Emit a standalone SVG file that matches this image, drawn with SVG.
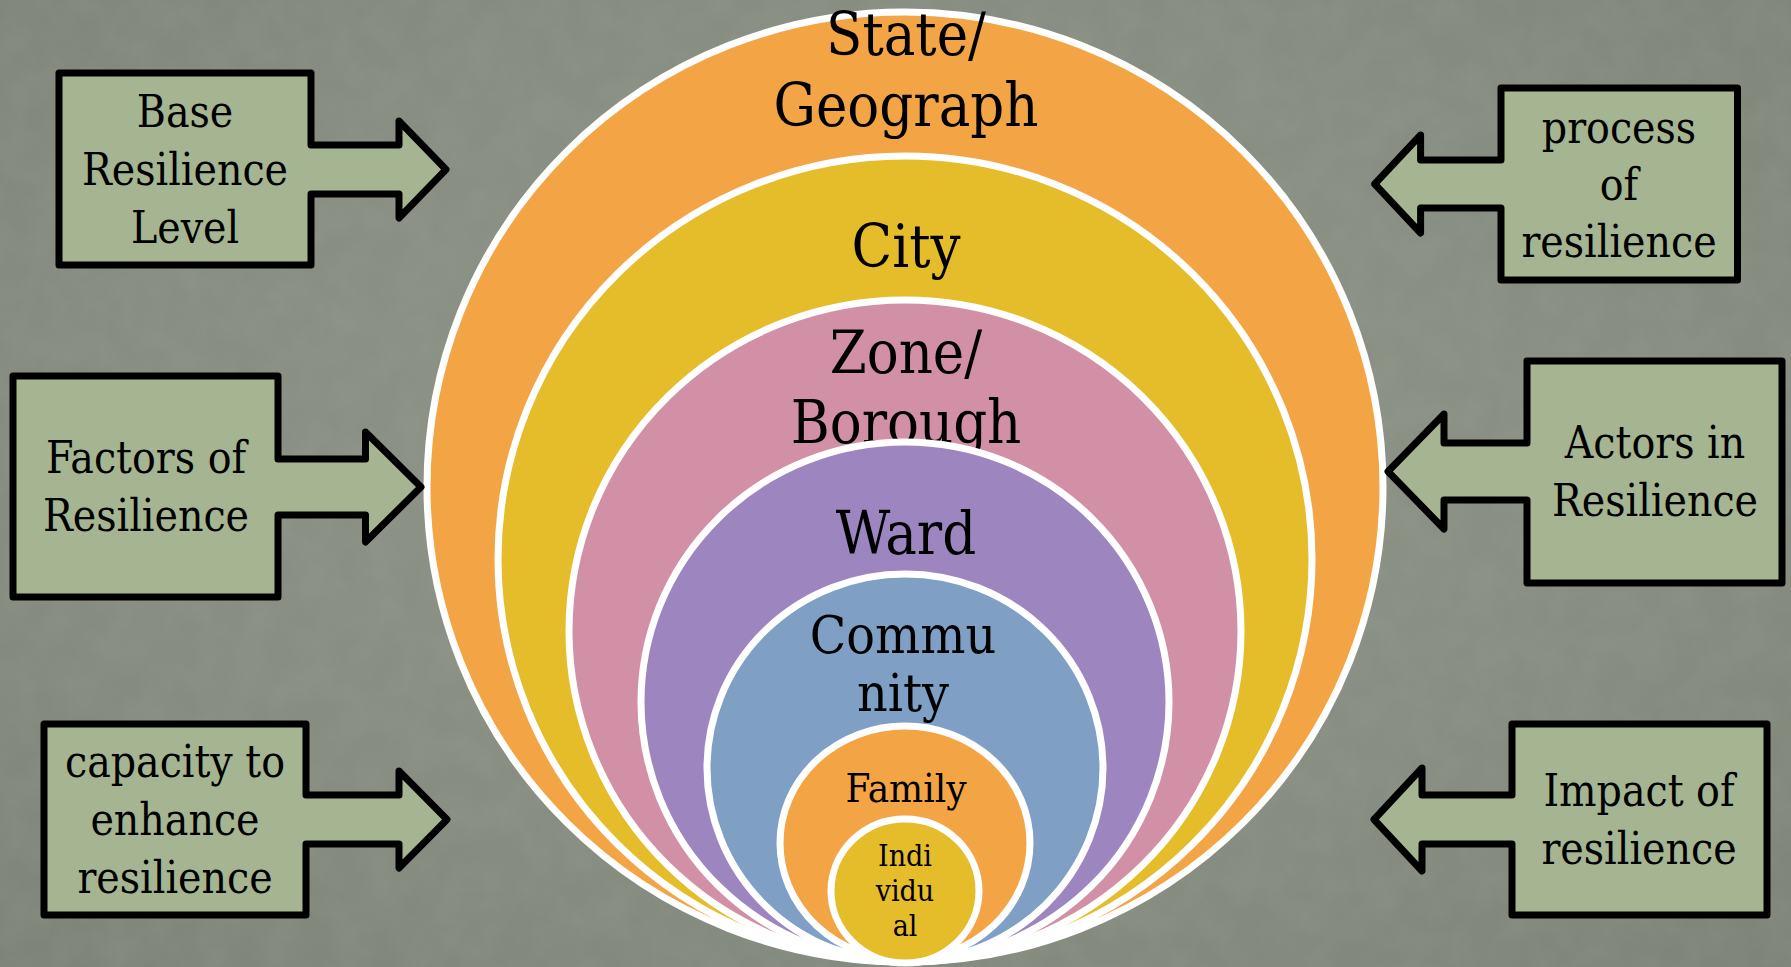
<svg xmlns="http://www.w3.org/2000/svg" width="1791" height="967" viewBox="0 0 1791 967">
<defs>
<radialGradient id="bg" cx="0.5" cy="0.45" r="0.75">
<stop offset="0" stop-color="#8f958a"/>
<stop offset="0.6" stop-color="#888d81"/>
<stop offset="1" stop-color="#7d8376"/>
</radialGradient>
<filter id="tex" x="0" y="0" width="100%" height="100%">
<feTurbulence type="fractalNoise" baseFrequency="0.03" numOctaves="4" seed="3"/>
<feColorMatrix type="matrix" values="0 0 0 0 0.45  0 0 0 0 0.48  0 0 0 0 0.42  0 0 0 1.2 -0.35"/>
</filter>
<style>
.box{fill:#a5b591;stroke:#000;stroke-width:7;stroke-linejoin:round}
.ring{stroke:#fff;stroke-width:7}
.t{font-family:"DejaVu Serif Condensed","DejaVu Serif","Liberation Serif",serif;font-stretch:condensed;fill:#000;text-anchor:middle}
.bt{font-size:44px}
.ct{font-size:59px}
</style>
</defs>
<rect width="1791" height="967" fill="url(#bg)"/>
<rect width="1791" height="967" filter="url(#tex)" opacity="0.15"/>

<g id="circles">
<g id="state">
<ellipse class="ring" cx="905" cy="487" rx="478" ry="475" fill="#f3a546"/>
<text class="t ct" x="906" y="55">State/</text>
<text class="t ct" x="906" y="126">Geograph</text>
</g>
<g id="city">
<ellipse class="ring" cx="905" cy="559" rx="407" ry="403" fill="#e5bd2a"/>
<text class="t ct" x="906" y="267">City</text>
</g>
<g id="zone">
<ellipse class="ring" cx="905" cy="631" rx="336" ry="331" fill="#d190a5"/>
<text class="t ct" x="906" y="373">Zone/</text>
<text class="t ct" x="906" y="443">Borough</text>
</g>
<g id="ward">
<ellipse class="ring" cx="905" cy="702" rx="264" ry="260" fill="#9d86c0"/>
<text class="t ct" x="906" y="554">Ward</text>
</g>
<g id="community">
<ellipse class="ring" cx="905" cy="768" rx="198" ry="194" fill="#7f9fc4"/>
<text class="t" style="font-size:53px" x="903" y="653">Commu</text>
<text class="t" style="font-size:53px" x="903" y="711">nity</text>
</g>
<g id="family">
<ellipse class="ring" cx="905" cy="843" rx="125" ry="117" fill="#f3a546"/>
<text class="t" style="font-size:40px" x="906" y="802">Family</text>
</g>
<g id="individual">
<ellipse class="ring" cx="905" cy="891" rx="74" ry="72" fill="#e5bd2a"/>
<text class="t" style="font-size:30px" x="905" y="866">Indi</text>
<text class="t" style="font-size:30px" x="905" y="901">vidu</text>
<text class="t" style="font-size:30px" x="905" y="936">al</text>
</g>
</g>

<g id="connectors">
<g id="base">
<path class="box" d="M59,73 H311 V145 H399 V121 L446,169.5 L399,218 V194 H311 V265 H59 Z"/>
<text class="t bt" x="185" y="127">Base</text>
<text class="t bt" x="185" y="185">Resilience</text>
<text class="t bt" x="185" y="243">Level</text>
</g>
<g id="factors">
<path class="box" d="M13,376 H278 V459 H365.5 V432 L421,487 L365.5,542 V515 H278 V597 H13 Z"/>
<text class="t bt" x="146" y="473">Factors of</text>
<text class="t bt" x="146" y="531">Resilience</text>
</g>
<g id="capacity">
<path class="box" d="M44,724 H306 V795 H399 V771 L447,819.5 L399,868 V844 H306 V915 H44 Z"/>
<text class="t bt" x="175" y="777">capacity to</text>
<text class="t bt" x="175" y="835">enhance</text>
<text class="t bt" x="175" y="893">resilience</text>
</g>
<g id="process">
<path class="box" d="M1737.5,88 H1501 V160 H1420.6 V135 L1374.7,184 L1420.6,233 V208 H1501 V280 H1737.5 Z"/>
<text class="t bt" x="1619" y="143">process</text>
<text class="t bt" x="1619" y="200">of</text>
<text class="t bt" x="1619" y="257">resilience</text>
</g>
<g id="actors">
<path class="box" d="M1782,361 H1527 V443 H1444 V414 L1388,471.5 L1444,529 V500 H1527 V583 H1782 Z"/>
<text class="t bt" x="1655" y="458">Actors in</text>
<text class="t bt" x="1655" y="516">Resilience</text>
</g>
<g id="impact">
<path class="box" d="M1767,724 H1512 V795 H1422 V768 L1374,819.5 L1422,871 V844 H1512 V915 H1767 Z"/>
<text class="t bt" x="1639" y="806">Impact of</text>
<text class="t bt" x="1639" y="864">resilience</text>
</g>
</g>
</svg>
